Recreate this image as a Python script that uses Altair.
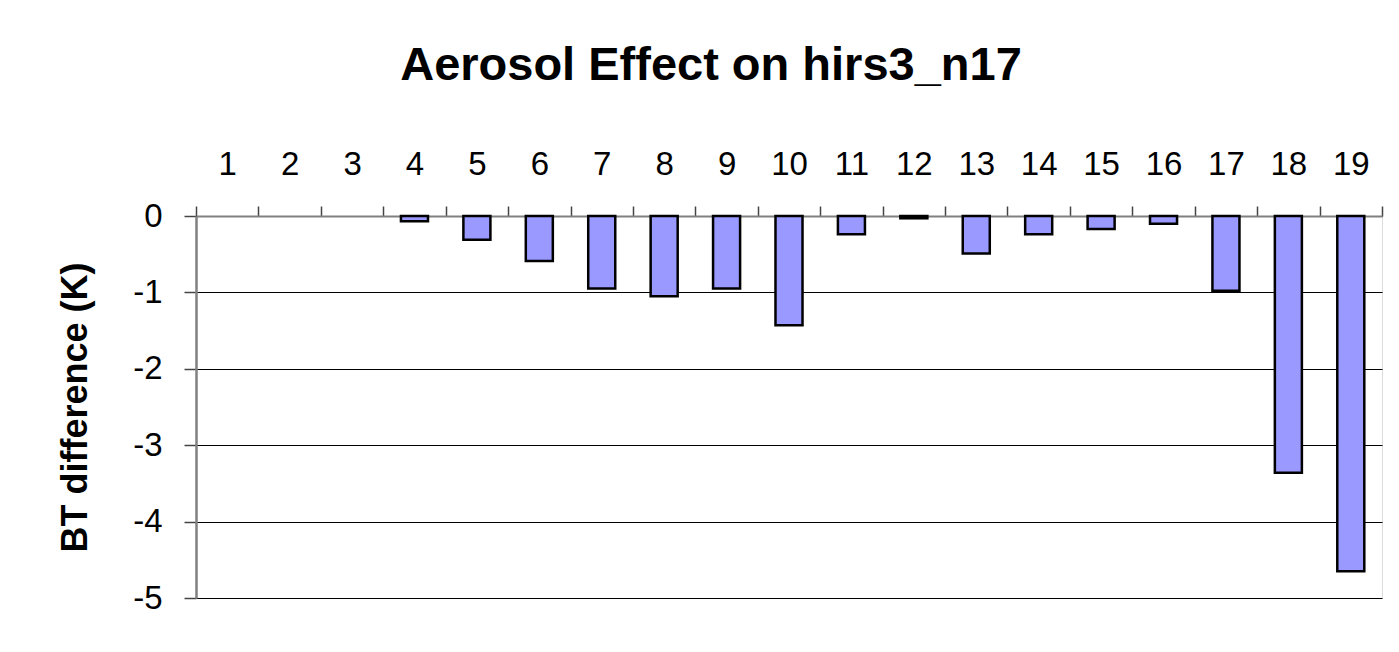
import altair as alt
import pandas as pd

channels = [str(i) for i in range(1, 20)]
bt_diff = [0.0, 0.0, 0.0, -0.07, -0.31, -0.59, -0.95, -1.05, -0.95, -1.43,
           -0.24, -0.03, -0.49, -0.24, -0.17, -0.10, -0.98, -3.36, -4.65]
y_ticks = [0, -1, -2, -3, -4, -5]

df = pd.DataFrame({"channel": channels, "bt": bt_diff})

FONT = "Liberation Sans"

chart = alt.Chart(df).transform_filter(
    "datum.bt != 0"
).mark_bar(
    color="#9999FF", stroke="black", strokeWidth=2.5,
    width=alt.RelativeBandSize(0.433),
).encode(
    x=alt.X(
        "channel:N", sort=channels,
        scale=alt.Scale(domain=channels, paddingInner=0, paddingOuter=0),
        axis=alt.Axis(
            orient="top", title=None, labelAngle=0, labelFont=FONT,
            labelFontSize=33, labelColor="black", labelPadding=25,
            tickBand="extent", tickSize=10, tickColor="#444444", tickWidth=1.5,
            domainColor="#808080", domainWidth=2, grid=False,
        ),
    ),
    y=alt.Y(
        "bt:Q",
        scale=alt.Scale(domain=[-5, 0], nice=False, zero=False),
        axis=alt.Axis(
            values=y_ticks, title="BT difference (K)",
            labelExpr="toString(datum.value)",
            labelFont=FONT, labelFontSize=33, labelColor="black",
            labelPadding=22, tickSize=12, tickColor="#444444", tickWidth=1.5,
            domainColor="#808080", domainWidth=2.5,
            grid=True, gridColor="black", gridWidth=1.2,
            titleFont=FONT, titleFontSize=36, titleFontWeight="bold",
            titleColor="black", titleAngle=270, titleX=-121, titleY=191,
            titleAlign="center", titleBaseline="middle",
        ),
    ),
).properties(
    width=1186,
    height=382,
    autosize=alt.AutoSizeParams(type="none"),
    padding={"left": 188, "top": 208, "right": 8, "bottom": 30},
    title=alt.TitleParams(
        "Aerosol Effect on hirs3_n17", font=FONT, fontSize=47,
        fontWeight="bold", color="black", anchor="middle", frame="group",
        dx=-78, offset=58,
    ),
).configure_view(
    stroke="#808080", strokeWidth=2.5
).configure(background="white")

chart.save("out.html", embed_options={"renderer": "svg", "actions": False})
